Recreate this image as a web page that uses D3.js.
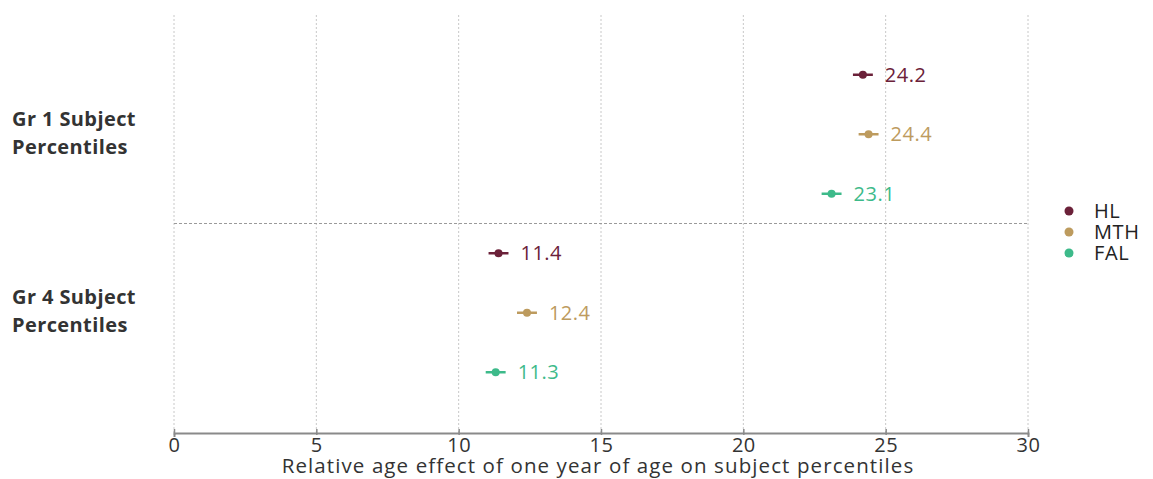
<!DOCTYPE html>
<html>
<head>
<meta charset="utf-8">
<script src="https://cdn.jsdelivr.net/npm/d3@7"></script>
<style>
  html, body { margin: 0; padding: 0; background: #fff; }
  svg { display: block; font-family: "Open Sans", Lato, sans-serif; }
</style>
</head>
<body>
<svg id="chart" width="1153" height="479"></svg>
<script>
// Outcome groups and subjects
const groups = ["Gr 1 Subject Percentiles", "Gr 4 Subject Percentiles"];
const subjects = ["HL", "MTH", "FAL"];

// Point estimates per group (order follows subjects)
const gr1Values = [24.2, 24.4, 23.1];
const gr4Values = [11.4, 12.4, 11.3];

// Confidence interval bounds per group
const gr1Lower = [23.85, 24.05, 22.75];
const gr1Upper = [24.55, 24.75, 23.45];
const gr4Lower = [11.05, 12.05, 10.95];
const gr4Upper = [11.75, 12.75, 11.65];

const xTicks = [0, 5, 10, 15, 20, 25, 30];
const colors = ["#6b2139", "#bd9b5e", "#3dba8a"];

const rows = [];
[[gr1Values, gr1Lower, gr1Upper], [gr4Values, gr4Lower, gr4Upper]].forEach((g, gi) => {
  subjects.forEach((s, si) => {
    rows.push({ group: groups[gi], subject: s, si, key: gi + "-" + s,
                value: g[0][si], lo: g[1][si], hi: g[2][si] });
  });
});

const svg = d3.select("#chart");
const plotLeft = 174, plotRight = 1028, plotTop = 15, plotBottom = 433;

const x = d3.scaleLinear().domain([0, 30]).range([plotLeft, plotRight]);
const yRow = d3.scaleBand().domain(rows.map(d => d.key)).range([45, 402]);

// vertical dotted gridlines
svg.append("g").selectAll("line").data(xTicks).join("line")
  .attr("x1", d => x(d)).attr("x2", d => x(d))
  .attr("y1", plotTop).attr("y2", plotBottom)
  .attr("stroke", "#c8c8c8").attr("stroke-width", 1)
  .attr("stroke-dasharray", "2,2");

// separator between groups
const sepY = (yRow(rows[2].key) + yRow.bandwidth() + yRow(rows[3].key)) / 2;
svg.append("line")
  .attr("x1", plotLeft).attr("x2", plotRight).attr("y1", sepY).attr("y2", sepY)
  .attr("stroke", "#9a9a9a").attr("stroke-width", 1).attr("stroke-dasharray", "3,2");

// x axis
const xAxis = d3.axisBottom(x).tickValues(xTicks).tickSize(4).tickPadding(2);
const gx = svg.append("g").attr("transform", `translate(0,${plotBottom})`).call(xAxis);
gx.select(".domain").attr("stroke", "#8a8a8a").attr("stroke-width", 2);
gx.selectAll(".tick line").attr("stroke", "#8a8a8a").attr("stroke-width", 1.5)
  .attr("y1", -4).attr("y2", 2);
gx.selectAll(".tick text").attr("fill", "#333").attr("font-size", 20)
  .attr("font-family", "'Open Sans', sans-serif")
  .attr("letter-spacing", 0.5)
  .attr("y", 19).attr("dy", 0);

svg.append("text")
  .attr("x", x(15) - 3).attr("y", 473)
  .attr("text-anchor", "middle").attr("fill", "#333").attr("font-size", 20.5)
  .attr("letter-spacing", 1.1)
  .text("Relative age effect of one year of age on subject percentiles");

// group labels
const labelCenters = [133, 311];
groups.forEach((g, i) => {
  const words = g.split(" ");
  const t = svg.append("text").attr("x", 12).attr("y", labelCenters[i] - 14)
    .attr("fill", "#333").attr("font-size", 20).attr("font-weight", "bold")
    .attr("letter-spacing", 0.4);
  t.append("tspan").attr("x", 12).attr("dy", "0.35em").text(words.slice(0, 3).join(" "));
  t.append("tspan").attr("x", 12).attr("dy", "1.4em").text(words.slice(3).join(" "));
});

// interval bars, points and value labels
const rowY = d => yRow(d.key) + yRow.bandwidth() / 2;
const marks = svg.append("g").selectAll("g").data(rows).join("g");
marks.append("line")
  .attr("x1", d => x(d.lo)).attr("x2", d => x(d.hi))
  .attr("y1", rowY).attr("y2", rowY)
  .attr("stroke", d => colors[d.si]).attr("stroke-width", 2.5);
marks.append("circle")
  .attr("cx", d => x(d.value)).attr("cy", rowY).attr("r", 4)
  .attr("fill", d => colors[d.si]);
marks.append("text")
  .attr("x", d => x(d.hi) + 12).attr("y", rowY).attr("dy", "0.36em")
  .attr("fill", d => colors[d.si]).attr("font-size", 20).attr("letter-spacing", 0.5)
  .text(d => d3.format(".1f")(d.value));

// legend
const legend = svg.append("g").attr("transform", "translate(1069,211)");
subjects.forEach((s, i) => {
  legend.append("circle").attr("cx", 0).attr("cy", i * 21).attr("r", 4.5).attr("fill", colors[i]);
  legend.append("text").attr("x", 25).attr("y", i * 21).attr("dy", "0.36em")
    .attr("fill", "#222").attr("font-size", 20).attr("letter-spacing", 0.6).text(s);
});
</script>
</body>
</html>
